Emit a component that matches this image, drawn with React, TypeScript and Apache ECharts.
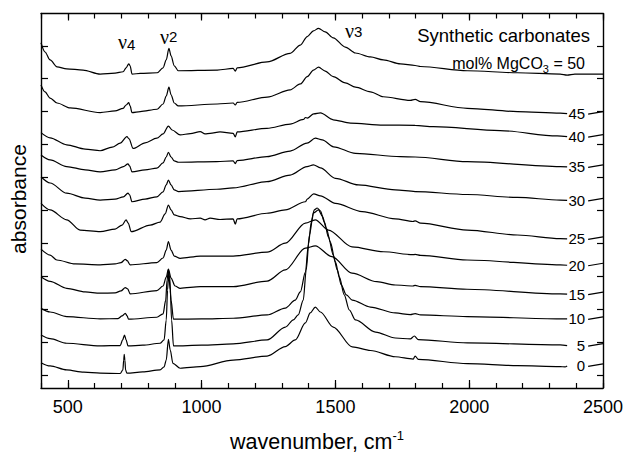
import React, { useEffect, useRef } from 'react';
import * as echarts from 'echarts';

const SANS = "'Liberation Sans', Arial, Helvetica, sans-serif";
const SERIF = "'Liberation Serif', 'Times New Roman', serif";

// Concentrations (mol% MgCO3) for each spectrum
const concentrations = [0, 5, 10, 15, 20, 25, 30, 35, 40, 45, 50];

// Spectra: [wavenumber cm-1, offset absorbance]
const s0: [number, number][] = [[400,0.37],[434,0.27],[496,0.15],[560,0.08],[621,0.05],[696,0.04],[706,0.15],[709,0.45],[711,0.62],[713.5,0.45],[716,0.15],[721,0.05],[780,0.09],[845,0.15],[860,0.24],[868,0.45],[876,1.08],[883,0.75],[893,0.35],[920,0.2],[995,0.25],[1118,0.45],[1245,0.57],[1313,0.86],[1350,1.06],[1388,1.58],[1406,1.88],[1425,2.06],[1444,1.91],[1492,1.45],[1563,0.85],[1631,0.74],[1724,0.55],[1791,0.48],[1798,0.57],[1810,0.47],[1993,0.34],[2180,0.28],[2340,0.25],[2358,0.24],[2366,0.27]];
const s5: [number, number][] = [[400,1.21],[434,1.1],[496,0.96],[621,0.88],[696,0.89],[705,1.06],[712,1.21],[718,1.06],[725,0.88],[780,0.9],[845,0.96],[860,1.06],[868,1.67],[873,2.58],[877,3.09],[883,2.58],[888,1.67],[895,0.88],[1000,0.9],[1118,0.94],[1245,1.06],[1313,1.45],[1343,1.67],[1361,1.82],[1380,2.27],[1391,3.19],[1403,4.25],[1418,4.92],[1437,5.01],[1451,4.83],[1466,4.46],[1481,4.04],[1500,3.43],[1515,2.97],[1533,2.43],[1552,1.97],[1575,1.67],[1650,1.3],[1724,1.12],[1780,1.09],[1795,1.18],[1810,1.07],[1993,0.97],[2340,0.91],[2366,0.89]];
const s10: [number, number][] = [[400,2.02],[434,1.91],[496,1.77],[621,1.7],[688,1.71],[703,1.79],[715,1.87],[722,1.79],[727,1.69],[833,1.75],[856,1.85],[866,2.27],[871,2.88],[876,3.19],[880,3.03],[886,2.27],[895,1.69],[1000,1.7],[1118,1.72],[1245,1.82],[1313,2.03],[1350,2.27],[1369,2.52],[1388,3.12],[1399,3.95],[1410,4.64],[1421,5.01],[1432,5.07],[1444,4.98],[1459,4.64],[1474,4.19],[1492,3.64],[1507,3.19],[1522,2.73],[1541,2.43],[1563,2.27],[1631,2.06],[1724,1.88],[1780,1.83],[1798,1.86],[1818,1.82],[1992,1.77],[2340,1.7],[2366,1.7]];
const s15: [number, number][] = [[400,2.98],[434,2.84],[496,2.63],[565,2.52],[621,2.48],[677,2.49],[699,2.55],[715,2.65],[724,2.61],[733,2.46],[833,2.56],[856,2.7],[868,2.97],[876,3.21],[886,2.94],[901,2.7],[920,2.63],[995,2.68],[1118,2.68],[1245,2.85],[1313,3.19],[1388,3.85],[1425,3.92],[1487,3.59],[1562,3.09],[1655,2.83],[1724,2.73],[1790,2.7],[1798,2.72],[1818,2.68],[1992,2.6],[2340,2.46],[2366,2.45]];
const s20: [number, number][] = [[400,3.82],[434,3.64],[459,3.49],[528,3.37],[621,3.34],[677,3.37],[699,3.41],[715,3.51],[722,3.47],[733,3.34],[833,3.41],[856,3.55],[868,3.79],[876,4.05],[886,3.79],[898,3.61],[920,3.54],[995,3.61],[1118,3.61],[1245,3.73],[1313,4.0],[1388,4.61],[1425,4.71],[1474,4.4],[1562,3.89],[1680,3.74],[1790,3.65],[1798,3.66],[1818,3.63],[1992,3.49],[2340,3.34],[2366,3.33]];
const s25: [number, number][] = [[400,5.21],[434,5.01],[496,4.71],[546,4.4],[621,4.35],[677,4.43],[703,4.55],[718,4.71],[726,4.61],[737,4.35],[808,4.55],[845,4.64],[864,4.89],[876,5.16],[886,5.01],[898,4.86],[920,4.81],[958,4.74],[995,4.76],[1013,4.71],[1032,4.76],[1069,4.72],[1118,4.74],[1126,4.58],[1133,4.74],[1244,4.91],[1313,5.01],[1388,5.26],[1395,5.34],[1419,5.5],[1444,5.44],[1500,5.21],[1600,4.96],[1724,4.74],[1790,4.66],[1798,4.68],[1818,4.61],[1993,4.4],[2180,4.25],[2340,4.14],[2366,4.13]];
const s30: [number, number][] = [[400,6.02],[434,5.83],[496,5.52],[565,5.37],[621,5.31],[677,5.34],[708,5.41],[725,5.52],[731,5.47],[740,5.26],[789,5.34],[833,5.41],[856,5.56],[868,5.77],[876,5.92],[886,5.77],[898,5.62],[914,5.57],[1057,5.64],[1118,5.68],[1244,5.87],[1331,6.07],[1394,6.33],[1418,6.38],[1444,6.29],[1500,5.97],[1586,5.77],[1724,5.62],[1798,5.57],[1993,5.48],[2180,5.39],[2340,5.31],[2366,5.3]];
const s35: [number, number][] = [[400,6.68],[434,6.53],[496,6.33],[565,6.23],[621,6.17],[677,6.23],[708,6.33],[725,6.41],[731,6.35],[740,6.17],[789,6.23],[833,6.28],[856,6.44],[868,6.62],[876,6.76],[886,6.62],[898,6.5],[914,6.46],[1057,6.48],[1118,6.5],[1126,6.42],[1133,6.51],[1244,6.63],[1331,6.8],[1394,7.04],[1425,7.19],[1451,7.14],[1493,6.93],[1575,6.73],[1743,6.63],[1798,6.62],[1993,6.48],[2340,6.33],[2366,6.32]];
const s40: [number, number][] = [[400,7.36],[434,7.2],[496,6.99],[565,6.86],[621,6.81],[666,6.92],[696,7.04],[721,7.24],[729,7.17],[744,6.88],[789,7.05],[833,7.19],[856,7.32],[876,7.56],[890,7.44],[920,7.29],[958,7.33],[995,7.39],[1013,7.32],[1032,7.34],[1069,7.38],[1118,7.34],[1126,7.23],[1133,7.38],[1244,7.49],[1331,7.62],[1381,7.76],[1388,7.82],[1395,7.8],[1419,7.93],[1444,7.96],[1492,7.75],[1556,7.65],[1679,7.59],[1798,7.58],[1866,7.54],[2116,7.42],[2329,7.26],[2366,7.24]];
const s45: [number, number][] = [[400,8.81],[415,8.6],[434,8.41],[460,8.26],[509,8.11],[621,7.97],[677,8.02],[707,8.1],[718,8.2],[728,8.27],[733,8.17],[740,7.97],[771,8.0],[834,8.07],[856,8.23],[868,8.47],[878,8.74],[886,8.51],[898,8.26],[913,8.17],[1059,8.23],[1118,8.26],[1126,8.2],[1133,8.28],[1245,8.44],[1331,8.66],[1369,8.84],[1395,9.06],[1418,9.26],[1437,9.35],[1462,9.23],[1492,9.06],[1537,8.87],[1575,8.74],[1631,8.6],[1679,8.45],[1780,8.34],[1798,8.37],[1818,8.3],[1993,8.1],[2180,8.0],[2340,7.95],[2366,7.94]];
const s50: [number, number][] = [[400,10.09],[415,9.81],[434,9.57],[460,9.36],[496,9.3],[557,9.26],[621,9.14],[677,9.17],[707,9.21],[718,9.33],[728,9.45],[733,9.39],[740,9.14],[771,9.16],[834,9.18],[856,9.33],[868,9.57],[878,9.92],[886,9.69],[898,9.39],[913,9.24],[1059,9.26],[1118,9.31],[1126,9.23],[1133,9.33],[1245,9.51],[1331,9.77],[1369,10.02],[1395,10.28],[1418,10.45],[1437,10.53],[1462,10.42],[1492,10.24],[1537,9.96],[1575,9.78],[1631,9.66],[1679,9.57],[1743,9.45],[1798,9.4],[1818,9.37],[1993,9.24],[2180,9.18],[2340,9.14],[2366,9.11],[2395,9.14],[2500,9.14]];

const spectra = [s0, s5, s10, s15, s20, s25, s30, s35, s40, s45, s50];

const xMajorTicks = [500, 1000, 1500, 2000, 2500];
const yTicks = [0, 1, 2, 3, 4, 5, 6, 7, 8, 9, 10];

export default function App() {
  const ref = useRef<HTMLDivElement>(null);
  useEffect(() => {
    const chart = echarts.init(ref.current!, null, { renderer: 'svg' });
    const black = '#000';
    const lineAxis = { show: true, onZero: false, lineStyle: { color: black, width: 1.4 } };
    const tickStyle = { color: black, width: 1.2 };
    const xBase = { type: 'value', min: 400, max: 2500, splitLine: { show: false } };
    const yBase = { type: 'value', min: -0.4, max: 10.98, splitLine: { show: false }, axisLabel: { show: false } };
    chart.setOption({
      animation: false,
      backgroundColor: '#fff',
      grid: { left: 41, right: 25, top: 13.5, bottom: 66, containLabel: false, outerBoundsMode: 'none' },
      xAxis: [
        { ...xBase, position: 'bottom', interval: 100, axisLine: lineAxis,
          axisTick: { inside: true, length: 5, lineStyle: tickStyle },
          axisLabel: { formatter: (v: number) => (v % 500 === 0 ? String(v) : ''), color: black, fontSize: 18, fontFamily: SANS, margin: 10 } },
        { ...xBase, position: 'bottom', axisLine: { show: false, onZero: false },
          axisTick: { inside: true, length: 8, customValues: xMajorTicks, lineStyle: tickStyle }, axisLabel: { show: false } },
        { ...xBase, position: 'top', interval: 100, axisLine: lineAxis,
          axisTick: { inside: true, length: 5, lineStyle: tickStyle }, axisLabel: { show: false } },
        { ...xBase, position: 'top', axisLine: { show: false, onZero: false },
          axisTick: { inside: true, length: 7, customValues: xMajorTicks, lineStyle: tickStyle }, axisLabel: { show: false } },
      ],
      yAxis: [
        { ...yBase, position: 'left', axisLine: lineAxis,
          axisTick: { inside: true, length: 7, customValues: yTicks, lineStyle: tickStyle } },
        { ...yBase, position: 'right', axisLine: lineAxis,
          axisTick: { inside: true, length: 6, customValues: yTicks, lineStyle: tickStyle } },
      ],
      series: spectra.map((d, i) => ({
        type: 'line',
        name: String(concentrations[i]),
        data: d,
        xAxisIndex: 0,
        yAxisIndex: 0,
        showSymbol: false,
        symbol: 'none',
        smooth: 0.3,
        smoothMonotone: 'x',
        silent: true,
        lineStyle: { color: black, width: 1.2 },
      })),
    });

    const ctx = document.createElement('canvas').getContext('2d')!;
    const tw = (t: string, size: number, fam = SANS) => { ctx.font = `${size}px ${fam}`; return ctx.measureText(t).width; };
    const txt = (text: string, x: number, y: number, size: number, align = 'left', vAlign = 'middle', fam = SANS, extra: any = {}) => ({
      type: 'text', x, y, silent: true, ...extra,
      style: { text, fill: black, font: `${size}px ${fam}`, fontSize: size, fontFamily: fam,
        align, textAlign: align, verticalAlign: vAlign, textVerticalAlign: vAlign },
    });

    const graphics: any[] = [];
    const axisRight = chart.convertToPixel({ gridIndex: 0 } as any, [2500, 0])[0];
    // right-side labels for 0..45
    for (let i = 0; i < spectra.length - 1; i++) {
      const last = spectra[i][spectra[i].length - 1];
      const [px, py] = chart.convertToPixel({ gridIndex: 0 } as any, last);
      graphics.push(txt(String(concentrations[i]), px + 18, py, 15, 'right'));
      graphics.push({ type: 'line', silent: true, shape: { x1: px + 21, y1: py + 0.5, x2: axisRight, y2: py - 2 },
        style: { stroke: black, lineWidth: 1.2 } });
    }
    // title texts
    graphics.push(txt('Synthetic carbonates', 590, 35, 18.5, 'right'));
    const R = 585;
    const wC = tw(' = 50', 16);
    const wB = tw('3', 11);
    graphics.push(txt(' = 50', R, 63, 16, 'right'));
    graphics.push(txt('3', R - wC, 69, 11, 'right'));
    graphics.push(txt('mol% MgCO', R - wC - wB, 63, 16, 'right'));
    // band labels
    const bands: [string, number, number, number][] = [['4', 118, 42, 44], ['2', 160, 37, 36], ['3', 345, 31, 31.5]];
    bands.forEach(([d, x, yNu, yD]) => {
      const wNu = tw('ν', 20, SERIF);
      graphics.push(txt('ν', x, yNu, 20, 'left', 'middle', SERIF));
      graphics.push(txt(d, x + wNu, yD, 15, 'left'));
    });
    // axis titles
    graphics.push(txt('absorbance', 18, 199, 21, 'center', 'middle', SANS, { rotation: Math.PI / 2 }));
    const wW = tw('wavenumber, cm', 21.5);
    graphics.push(txt('wavenumber, cm', 230, 442, 21.5, 'left'));
    graphics.push(txt('-1', 230 + wW, 435, 13, 'left'));

    chart.setOption({ graphic: graphics });
    return () => chart.dispose();
  }, []);
  return <div ref={ref} style={{ position: 'fixed', left: 0, top: 0, width: 628, height: 454, background: '#fff' }} />;
}
